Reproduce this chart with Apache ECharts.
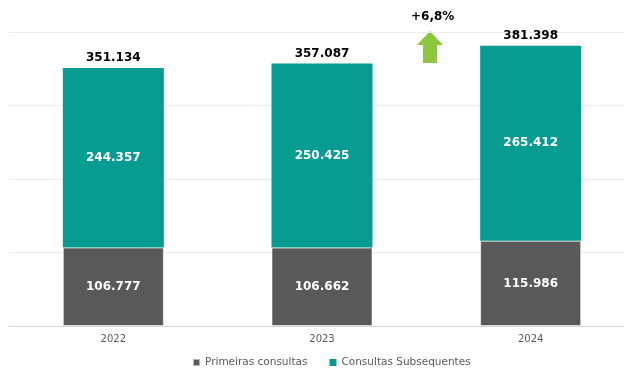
<!DOCTYPE html>
<html>
<head>
<meta charset="utf-8">
<script src="https://cdn.jsdelivr.net/npm/echarts@6/dist/echarts.min.js"></script>
<style>
  html, body { margin: 0; padding: 0; background: #fff; }
  #chart { width: 624px; height: 369px; }
</style>
</head>
<body>
<div id="chart"></div>
<script>
// Consultas por ano
const years = ['2022', '2023', '2024'];
const primeiras = [106777, 106662, 115986];
const subsequentes = [244357, 250425, 265412];
const totals = [351134, 357087, 381398];
const growthLabel = '+6,8%';

const FONT = '"DejaVu Sans", sans-serif';
const fmt = v => String(v).replace(/\B(?=(\d{3})+(?!\d))/g, '.');

const chart = echarts.init(document.getElementById('chart'));
chart.setOption({
  animation: false,
  backgroundColor: '#ffffff',
  grid: { left: 9, top: 32, right: -11, bottom: 43, containLabel: false, outerBoundsMode: 'none' },
  legend: {
    data: ['Primeiras consultas', 'Consultas Subsequentes'],
    bottom: -4,
    left: 187,
    itemWidth: 7,
    itemHeight: 7,
    itemGap: 22,
    icon: 'rect',
    textStyle: { fontFamily: FONT, fontSize: 10.5, color: '#595959' }
  },
  xAxis: {
    type: 'category',
    data: years,
    axisTick: { show: false },
    axisLine: { lineStyle: { color: '#d9d9d9' } },
    axisLabel: { fontFamily: FONT, fontSize: 10, color: '#595959', margin: 8 }
  },
  yAxis: {
    type: 'value',
    min: 0,
    max: 400000,
    interval: 100000,
    axisLabel: { show: false },
    axisLine: { show: false },
    axisTick: { show: false },
    splitLine: { lineStyle: { color: '#ececec' } }
  },
  series: [
    {
      name: 'Primeiras consultas',
      type: 'bar',
      stack: 'total',
      barWidth: '48.4%',
      data: primeiras,
      itemStyle: { color: '#595959', borderColor: 'rgba(255,255,255,0.55)', borderWidth: 1 },
      label: {
        show: true, position: 'inside', color: '#ffffff',
        fontFamily: FONT, fontWeight: 'bold', fontSize: 12,
        formatter: p => fmt(p.value)
      }
    },
    {
      name: 'Consultas Subsequentes',
      type: 'bar',
      stack: 'total',
      data: subsequentes,
      itemStyle: { color: '#079b91' },
      label: {
        show: true, position: 'inside', color: '#ffffff',
        fontFamily: FONT, fontWeight: 'bold', fontSize: 12,
        formatter: p => fmt(p.value)
      }
    },
    {
      name: 'Total',
      type: 'scatter',
      data: totals,
      symbolSize: 2,
      itemStyle: { color: 'rgba(0,0,0,0)', opacity: 1 },
      silent: true,
      z: 5,
      label: {
        show: true, position: 'top', distance: 3, color: '#000000', opacity: 1,
        fontFamily: FONT, fontWeight: 'bold', fontSize: 12,
        formatter: p => fmt(p.value)
      }
    }
  ],
  graphic: [
    {
      type: 'text',
      left: 411,
      top: 11,
      style: { text: growthLabel, fontFamily: FONT, fontWeight: 'bold', fontSize: 12, fill: '#000000' }
    },
    {
      type: 'polygon',
      shape: {
        points: [[430, 31], [443, 45], [437, 45], [437, 63], [423, 63], [423, 45], [417, 45]]
      },
      style: { fill: '#8dc63f' }
    }
  ]
});
</script>
</body>
</html>
